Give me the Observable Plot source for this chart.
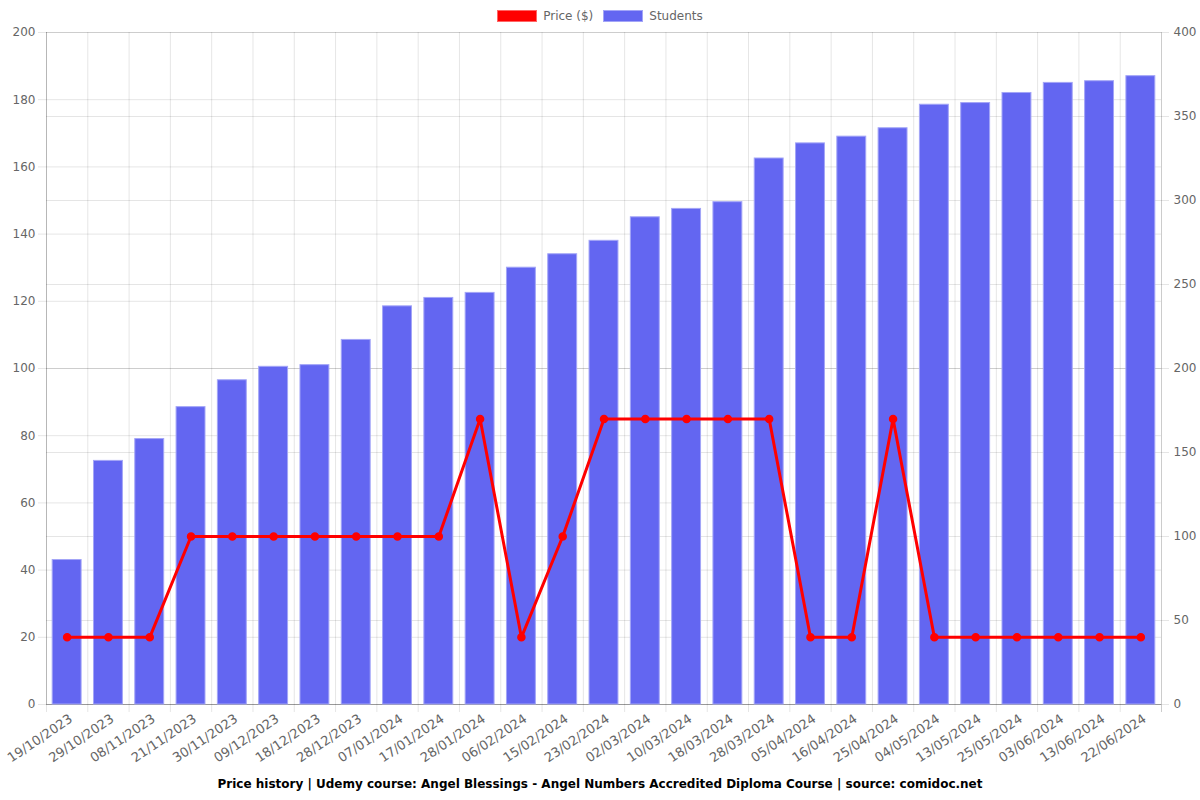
<!DOCTYPE html>
<html>
<head>
<meta charset="utf-8">
<script src="https://cdn.jsdelivr.net/npm/d3@7"></script>
<script src="https://cdn.jsdelivr.net/npm/@observablehq/plot@0.6"></script>
<style>
  html, body { margin: 0; padding: 0; background: #fff; }
  body { width: 1200px; height: 800px; font-family: "DejaVu Sans", sans-serif; }
  #legend { height: 24px; box-sizing: border-box; padding-top: 7px; display: flex; justify-content: center; align-items: center; font-size: 12px; color: #666; }
  .item { display: flex; align-items: center; margin: 0 5px; }
  .box { width: 40px; height: 12px; box-sizing: border-box; margin-right: 6px; }
  #chart svg { display: block; }
  #caption { text-align: center; font-weight: bold; font-size: 12px; color: #000; line-height: 16px; margin-top: 1px; }
</style>
</head>
<body>
<div id="legend"></div>
<div id="chart"></div>
<div id="caption">Price history | Udemy course: Angel Blessings - Angel Numbers Accredited Diploma Course | source: comidoc.net</div>
<script>
const dates = ["19/10/2023","29/10/2023","08/11/2023","21/11/2023","30/11/2023","09/12/2023","18/12/2023","28/12/2023","07/01/2024","17/01/2024","28/01/2024","06/02/2024","15/02/2024","23/02/2024","02/03/2024","10/03/2024","18/03/2024","28/03/2024","05/04/2024","16/04/2024","25/04/2024","04/05/2024","13/05/2024","25/05/2024","03/06/2024","13/06/2024","22/06/2024"];
const students = [86,145,158,177,193,201,202,217,237,242,245,260,268,276,290,295,299,325,334,338,343,357,358,364,370,371,374];
const prices = [19.99,19.99,19.99,49.99,49.99,49.99,49.99,49.99,49.99,49.99,84.99,19.99,49.99,84.99,84.99,84.99,84.99,84.99,19.99,19.99,84.99,19.99,19.99,19.99,19.99,19.99,19.99];
const leftTicks = d3.range(0, 201, 20);
const rightTicks = d3.range(0, 401, 50);
const seriesNames = ["Price ($)", "Students"];
const seriesColors = ["#ff0000", "#6366f1"];

const data = dates.map((d, i) => ({date: d, students: students[i], price: prices[i]}));

// legend
const legend = d3.select("#legend");
seriesNames.forEach((name, i) => {
  const it = legend.append("div").attr("class", "item");
  it.append("div").attr("class", "box")
    .style("background", seriesColors[i])
    .style("border", "1px solid " + (i === 0 ? "#ff6666" : "#a3a5f7"));
  it.append("span").text(name);
});

const W = 1200, H = 751, mL = 46, mR = 39, mT = 8, mB = 71;
const step = (W - mL - mR) / dates.length;
const ratio = 2; // students axis = 2 x price axis

const chart = Plot.plot({
  width: W, height: H,
  marginLeft: mL, marginRight: mR, marginTop: mT, marginBottom: mB,
  style: {fontFamily: "DejaVu Sans", fontSize: "12px", color: "#666", background: "white"},
  x: {domain: dates, paddingInner: 0.3, paddingOuter: 0.15, round: false, label: null},
  y: {domain: [0, 200], label: null},
  marks: [
    Plot.gridY(leftTicks, {stroke: "#000", strokeOpacity: 0.1, strokeWidth: 1, insetLeft: -8}),
    Plot.gridY(rightTicks.map(v => v / ratio), {stroke: "#000", strokeOpacity: 0.1, strokeWidth: 1, insetRight: -8}),
    Plot.ruleX(dates, {x: d => d, dx: -step / 2, stroke: "#000", strokeOpacity: 0.1, insetBottom: -8}),
    Plot.ruleX([dates[dates.length - 1]], {x: d => d, dx: step / 2, stroke: "#000", strokeOpacity: 0.2, insetBottom: -8}),
    Plot.ruleX([dates[0]], {x: d => d, dx: -step / 2, stroke: "#000", strokeOpacity: 0.2}),
    Plot.ruleY([0], {stroke: "#000", strokeOpacity: 0.25}),
    Plot.barY(data, {x: "date", y: d => d.students / ratio, fill: "#6366f1", stroke: "#a3a5f7", strokeWidth: 1}),
    Plot.lineY(data, {x: "date", y: "price", stroke: "#ff0000", strokeWidth: 3}),
    Plot.dot(data, {x: "date", y: "price", r: 3.5, fill: "#ff0000", stroke: "#ff0000"}),
    Plot.axisY({anchor: "left", ticks: leftTicks, tickSize: 0, tickPadding: 11, fontSize: 12, fill: "#666", label: null}),
    Plot.axisY({anchor: "right", ticks: rightTicks.map(v => v / ratio), tickFormat: d => String(d * ratio), tickSize: 0, tickPadding: 12, fontSize: 12, fill: "#666", label: null}),
    Plot.axisX({tickRotate: -34, tickSize: 0, tickPadding: 13, dx: 4, fontSize: 13, fill: "#666", label: null})
  ]
});
document.getElementById("chart").appendChild(chart);
</script>
</body>
</html>
